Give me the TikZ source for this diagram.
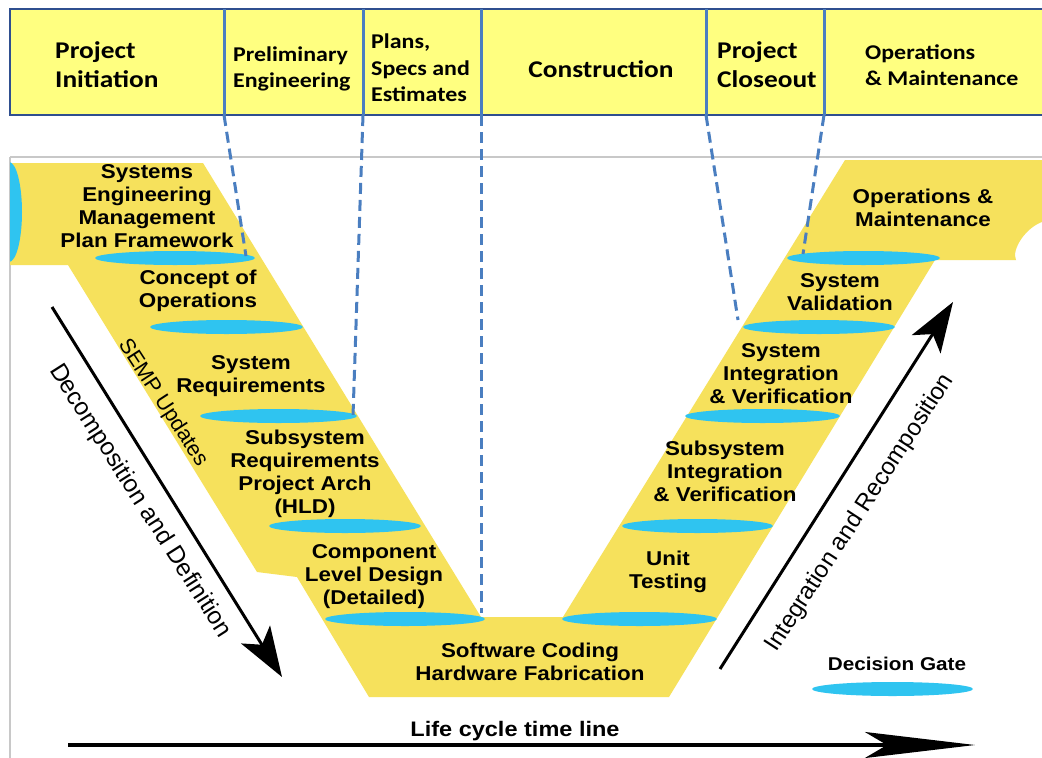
\documentclass[tikz,border=0pt]{standalone}
\usepackage{fontspec}
\setmainfont{Liberation Sans}
\newfontfamily\vfont[FakeStretch=1.12]{Liberation Sans}
\newfontfamily\hfont[FakeStretch=1.14]{Carlito}
\usetikzlibrary{arrows.meta,shapes.geometric}
\definecolor{vyellow}{HTML}{F6E15C}
\definecolor{hyellow}{HTML}{FFFF80}
\definecolor{gatecyan}{HTML}{2FC4F0}
\definecolor{sepblue}{HTML}{4A7EC0}
\definecolor{hborder}{HTML}{2F4F8F}
\definecolor{framegray}{HTML}{C8C8C8}
\begin{document}
\begin{tikzpicture}[x=1pt,y=-1pt,
  gate/.style={ellipse, fill=gatecyan, inner sep=0pt, minimum height=14pt},
  vlabel/.style={align=center, font=\vfont\bfseries\fontsize{20}{23}\selectfont, inner sep=0pt},
  hsmall/.style={align=left, anchor=west, font=\hfont\bfseries\fontsize{21}{26.5}\selectfont, inner sep=0pt},
  hbig/.style={align=left, anchor=west, font=\hfont\bfseries\fontsize{24}{29}\selectfont, inner sep=0pt},
  rotlabel/.style={font=\fontsize{24}{28}\selectfont, inner sep=0pt},
  bigarrow/.style={line width=3pt, -{Stealth[length=50pt,width=34pt,inset=12pt]}},
  timearrow/.style={line width=4pt, -{Stealth[length=110pt,width=26pt,inset=22pt]}}
]
\useasboundingbox (0,0) rectangle (1042,758);
\fill[white] (0,0) rectangle (1042,758);

% frame of the lower picture
\draw[framegray, line width=1.5pt] (10,157) -- (1042,157);
\draw[framegray, line width=1.5pt] (10,157) -- (10,758);

% V band
\fill[vyellow] (10,163) -- (203,163) -- (481,617) -- (563,617) -- (845,160) -- (1045,160)
  -- (1045,221) .. controls (1026,226) and (1011,250) .. (1016,260) -- (935,260)
  -- (669,697) -- (369,697) -- (297,577) -- (257,572) -- (68,265) -- (10,265) -- cycle;

% half gate at the left end
\begin{scope}
  \clip (10,150) rectangle (40,280);
  \fill[gatecyan] (9,212) ellipse [x radius=13, y radius=50];
\end{scope}

% header band
\draw[hborder, line width=2.5pt, fill=hyellow] (10,9) rectangle (1060,115);
\coordinate (s1t) at (224,9);  \coordinate (s1b) at (224,115);
\coordinate (s2t) at (363,9);  \coordinate (s2b) at (363,115);
\coordinate (s3t) at (481,9);  \coordinate (s3b) at (481,115);
\coordinate (s4t) at (706,9);  \coordinate (s4b) at (706,115);
\coordinate (s5t) at (824,9);  \coordinate (s5b) at (824,115);
\draw[sepblue, line width=3pt] (s1t) -- (s1b);
\draw[sepblue, line width=3pt] (s2t) -- (s2b);
\draw[sepblue, line width=3pt] (s3t) -- (s3b);
\draw[sepblue, line width=3pt] (s4t) -- (s4b);
\draw[sepblue, line width=3pt] (s5t) -- (s5b);

\node[hbig]   (hinit)  at (55,65)  {Project\\Initiation};
\node[hsmall] (hpre)   at (233,69) {Preliminary\\Engineering};
\node[hsmall] (hpse)   at (371,68) {Plans,\\Specs and\\Estimates};
\node[hbig, anchor=center] (hcon) at (601,69) {Construction};
\node[hbig]   (hclose) at (717,65) {Project\\Closeout};
\node[hsmall] (hom)    at (865,65) {Operations\\\& Maintenance};

% decision gates
\node[gate, minimum width=160pt] (g1)  at (175,258)   {};
\node[gate, minimum width=153pt] (g2)  at (226.5,327) {};
\node[gate, minimum width=157pt] (g3)  at (278.5,416) {};
\node[gate, minimum width=152pt] (g4)  at (345,526)   {};
\node[gate, minimum width=160pt] (g5)  at (405,619)   {};
\node[gate, minimum width=155pt] (g6)  at (639.5,619) {};
\node[gate, minimum width=151pt] (g7)  at (697.5,526) {};
\node[gate, minimum width=155pt] (g8)  at (762.5,416) {};
\node[gate, minimum width=152pt] (g9)  at (819,327)   {};
\node[gate, minimum width=153pt] (g10) at (863.5,258) {};
\node[gate, minimum width=161pt] (g11) at (892.5,689) {};

% phase boundaries
\coordinate (d1) at (246,256);
\coordinate (d2) at (353,416);
\coordinate (d3) at (481,613);
\coordinate (d4) at (738,320);
\coordinate (d5) at (803,254);
\draw[sepblue, line width=3pt, dash pattern=on 11pt off 6pt] (s1b) -- (d1);
\draw[sepblue, line width=3pt, dash pattern=on 11pt off 6pt] (s2b) -- (d2);
\draw[sepblue, line width=3pt, dash pattern=on 11pt off 6pt] (s3b) -- (d3);
\draw[sepblue, line width=3pt, dash pattern=on 11pt off 6pt] (s4b) -- (d4);
\draw[sepblue, line width=3pt, dash pattern=on 11pt off 6pt] (s5b) -- (d5);

% stage labels
\node[vlabel] (semf)   at (147,206) {Systems\\Engineering\\Management\\Plan Framework};
\node[vlabel] (conops) at (198,291) {Concept of\\Operations};
\node[vlabel] (sysreq) at (251,376) {System\\Requirements};
\node[vlabel] (subreq) at (305,474) {Subsystem\\Requirements\\Project Arch\\(HLD)};
\node[vlabel] (comp)   at (374,577) {Component\\Level Design\\(Detailed)};
\node[vlabel] (swhw)   at (530,662) {Software Coding\\Hardware Fabrication};
\node[vlabel] (unit)   at (668,572) {Unit\\Testing};
\node[vlabel] (subint) at (725,471) {Subsystem\\Integration\\\& Verification};
\node[vlabel] (sysint) at (781,374) {System\\Integration\\\& Verification};
\node[vlabel] (sysval) at (840,292) {System\\Validation};
\node[vlabel] (om)     at (923,208) {Operations \&\\Maintenance};
\node[vlabel, font=\vfont\bfseries\fontsize{18.5}{22}\selectfont] (legend) at (897,664) {Decision Gate};
\node[vlabel, font=\vfont\bfseries\fontsize{21}{24}\selectfont] (tline) at (515,731) {Life cycle time line};

% rotated labels
\node[font=\fontsize{21.5}{24}\selectfont, inner sep=0pt, rotate=-57] (semp) at (163,403) {SEMP Updates};
\node[rotlabel, font=\fontsize{24.5}{28}\selectfont, rotate=-57.5] (decomp) at (140,501) {Decomposition and Definition};
\node[rotlabel, rotate=57] (integ) at (860,513) {Integration and Recomposition};

% arrows
\coordinate (dA) at (52,307);  \coordinate (dB) at (282,677);
\coordinate (iA) at (720,669); \coordinate (iB) at (953,302);
\coordinate (tA) at (68,745);  \coordinate (tB) at (975,745);
\draw[bigarrow] (dA) -- (dB);
\draw[bigarrow] (iA) -- (iB);
\draw[timearrow] (tA) -- (tB);
\end{tikzpicture}
\end{document}
